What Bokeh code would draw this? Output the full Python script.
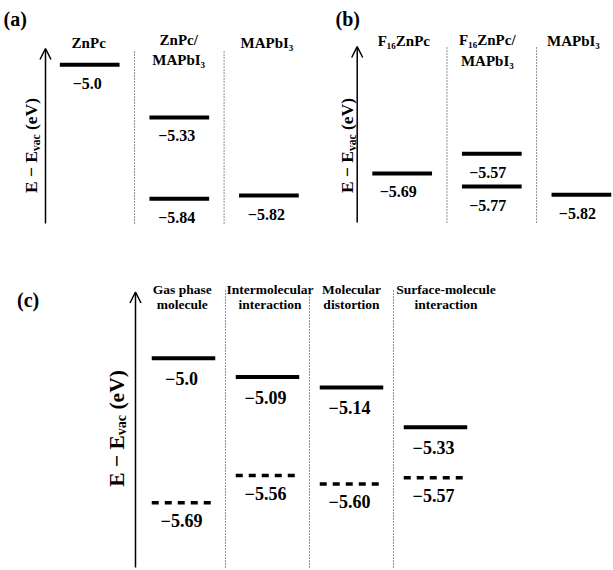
import math
from bokeh.plotting import figure
from bokeh.models import Label, Arrow, OpenHead
from bokeh.layouts import column, row
from bokeh.embed import file_html
from bokeh.resources import INLINE
from bokeh.core.properties import value

FONT = "Liberation Serif"

# ---------------- data ----------------
# Panel (a)
a_headers = [["ZnPc"], ["ZnPc/", "MAPbI₃"], ["MAPbI₃"]]
a_level_col = [0, 1, 1, 2]
a_level_E = [-5.0, -5.33, -5.84, -5.82]
a_level_lbl = ["−5.0", "−5.33", "−5.84", "−5.82"]

# Panel (b)
b_headers = [["F₁₆ZnPc"], ["F₁₆ZnPc/", "MAPbI₃"], ["MAPbI₃"]]
b_level_col = [0, 1, 1, 2]
b_level_E = [-5.69, -5.57, -5.77, -5.82]
b_level_lbl = ["−5.69", "−5.57", "−5.77", "−5.82"]

# Panel (c)
c_headers = [["Gas phase", "molecule"], ["Intermolecular", "interaction"],
             ["Molecular", "distortion"], ["Surface-molecule", "interaction"]]
c_col = [0, 1, 2, 3]
c_solid_E = [-5.0, -5.09, -5.14, -5.33]
c_solid_lbl = ["−5.0", "−5.09", "−5.14", "−5.33"]
c_dash_E = [-5.69, -5.56, -5.60, -5.57]
c_dash_lbl = ["−5.69", "−5.56", "−5.60", "−5.57"]


class Panel:
    """Maps page pixels of decorations to the figure's data units."""
    def __init__(self, ox, oy, w, h, c0, dx, e0, p0, s):
        self.ox, self.oy, self.w, self.h = ox, oy, w, h
        self.c0, self.dx, self.e0, self.p0, self.s = c0, dx, e0, p0, s

    def X(self, px):
        return (px - self.c0) / self.dx

    def Y(self, py):
        return self.e0 - (py - self.p0) / self.s

    def make(self):
        p = figure(width=self.w, height=self.h,
                   x_range=(self.X(self.ox), self.X(self.ox + self.w)),
                   y_range=(self.Y(self.oy + self.h), self.Y(self.oy)),
                   output_backend="svg", toolbar_location=None,
                   x_axis_location=None, y_axis_location=None,
                   min_border=0, outline_line_color=None,
                   background_fill_color="white", border_fill_color="white")
        p.xgrid.visible = False
        p.ygrid.visible = False
        return p


def bold_label(p, x, y, text, size, align="center", baseline="alphabetic", angle=0.0):
    p.add_layout(Label(x=x, y=y, text=text, angle=angle, text_font=FONT,
                       text_font_style="bold", text_font_size=f"{size}px",
                       text_align=align, text_baseline=baseline, text_color="black"))


def draw_levels(p, pn, cols, Es, lbls, half_px, lw, dash, font_px, base_off, xoff):
    hw = half_px / pn.dx
    x0 = [c - hw for c in cols]
    x1 = [c + hw for c in cols]
    p.segment(x0=x0, y0=Es, x1=x1, y1=Es, line_width=lw, line_color="black",
              line_dash=dash, line_cap="butt")
    p.text(x=cols, y=Es, text=lbls, x_offset=xoff, y_offset=base_off,
           text_align="center", text_baseline="alphabetic",
           text_font=value(FONT), text_font_style="bold",
           text_font_size=f"{font_px}px", text_color="black")


def separators(p, pn, ncol, top_px, bot_px):
    xs = [i + 0.5 for i in range(ncol - 1)]
    p.segment(x0=xs, x1=xs, y0=[pn.Y(bot_px)] * len(xs), y1=[pn.Y(top_px)] * len(xs),
              line_width=1, line_color="#222222", line_dash="1 2")


def axis_arrow(p, pn, x_px, top_px, bot_px):
    p.add_layout(Arrow(end=OpenHead(size=11, line_width=1.5, line_color="black"),
                       x_start=pn.X(x_px), y_start=pn.Y(bot_px),
                       x_end=pn.X(x_px), y_end=pn.Y(top_px),
                       line_width=1.5, line_color="black"))


def ylabel(p, pn, base_px, center_py, F, f, drop):
    w1 = 2.404 * F          # "E − E"
    w2 = 1.444 * f          # "vac"
    wsp = 0.25 * F          # space
    w3 = 1.832 * F          # "(eV)"
    total = w1 + w2 + wsp + w3
    start = center_py + total / 2
    bold_label(p, pn.X(base_px), pn.Y(start), "E − E", F, align="left", angle=math.pi / 2)
    bold_label(p, pn.X(base_px + drop), pn.Y(start - w1), "vac", f, align="left", angle=math.pi / 2)
    bold_label(p, pn.X(base_px), pn.Y(start - w1 - w2 - wsp), "(eV)", F, align="left", angle=math.pi / 2)


def headers(p, pn, hdrs, offsets, base_rows, size):
    for i, lines in enumerate(hdrs):
        rows_y = base_rows[len(lines) - 1]
        for k, line in enumerate(lines):
            bold_label(p, pn.X(pn.c0 + i * pn.dx + offsets[i]), pn.Y(rows_y[k]), line, size)


# ---------------- panel (a) ----------------
pa = Panel(ox=0, oy=0, w=308, h=240, c0=89.2, dx=89.6, e0=-5.0, p0=64.3, s=159.5)
fa = pa.make()
separators(fa, pa, len(a_headers), 50, 223)
axis_arrow(fa, pa, 45, 48, 223)
draw_levels(fa, pa, a_level_col, a_level_E, a_level_lbl, 29.85, 4, "solid", 16, 18.5, -2.5)
headers(fa, pa, a_headers, [-1, -0.6, -2], {0: [42.7], 1: [39.5, 59.5]}, 15)
bold_label(fa, pa.X(3), pa.Y(18.5), "(a)", 20, align="left")
ylabel(fa, pa, 30.5, 145, 17.5, 11.5, 4.5)

# ---------------- panel (b) ----------------
pb = Panel(ox=308, oy=0, w=304, h=240, c0=401.7, dx=89.6, e0=-5.57, p0=153.3, s=164.0)
fb = pb.make()
separators(fb, pb, len(b_headers), 47, 222)
axis_arrow(fb, pb, 356.7, 46, 222)
draw_levels(fb, pb, b_level_col, b_level_E, b_level_lbl, 29.85, 4, "solid", 16, 18.5, -4)
headers(fb, pb, b_headers, [1.6, -4.5, -8], {0: [40.5], 1: [39.5, 60.5]}, 15)
bold_label(fb, pb.X(335), pb.Y(18.5), "(b)", 20, align="left")
ylabel(fb, pb, 346.5, 145, 17.5, 11.5, 4.5)

# ---------------- panel (c) ----------------
pc = Panel(ox=0, oy=240, w=612, h=329, c0=183.0, dx=84.0, e0=-5.0, p0=357.7, s=209.6)
fc = pc.make()
separators(fc, pc, len(c_headers), 290, 567)
axis_arrow(fc, pc, 135, 291.5, 567)
draw_levels(fc, pc, c_col, c_solid_E, c_solid_lbl, 31.75, 4, "solid", 18, 20, -2)
draw_levels(fc, pc, c_col, c_dash_E, c_dash_lbl, 31.75, 3.5, "7 6", 18, 17.5, -2)
headers(fc, pc, c_headers, [-1.3, 2.5, 0, 10.5], {1: [288.5, 304]}, 13.5)
bold_label(fc, pc.X(16.5), pc.Y(299.5), "(c)", 20, align="left")
ylabel(fc, pc, 116, 428, 21.5, 14, 5)

layout = column(row(fa, fb), fc)
open("out.html", "w").write(file_html(layout, INLINE))
